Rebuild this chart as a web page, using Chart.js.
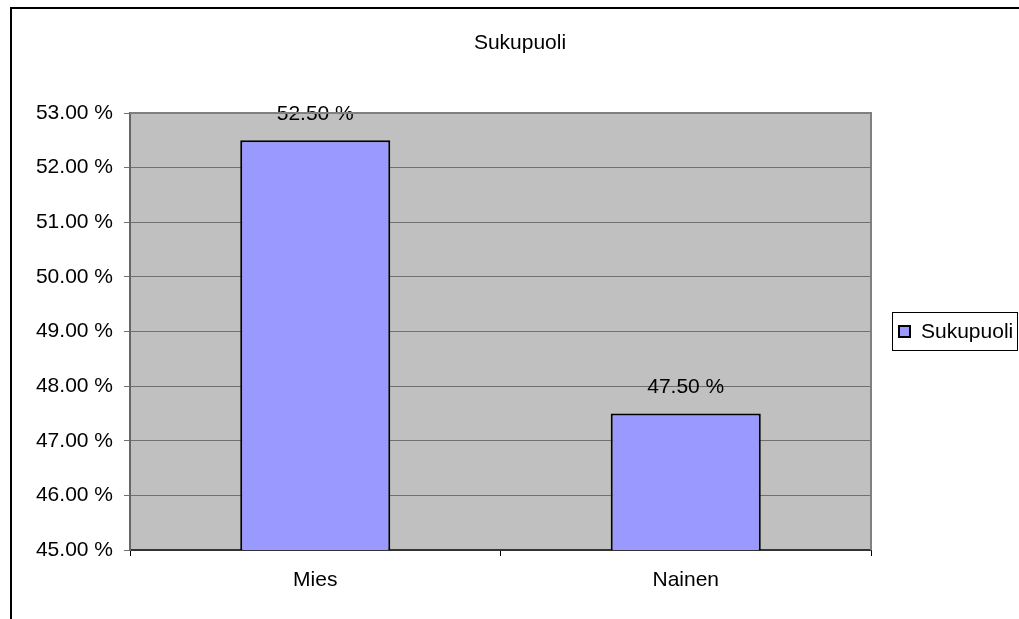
<!DOCTYPE html>
<html>
<head>
<meta charset="utf-8">
<script src="https://cdn.jsdelivr.net/npm/chart.js@4"></script>
<style>
  body { margin: 0; background: #fff; }
  canvas { display: block; }
</style>
</head>
<body>
<canvas id="chart" width="1019" height="619"></canvas>
<script>
// chart data
const categories = ['Mies', 'Nainen'];
const seriesName = 'Sukupuoli';
const seriesValues = [52.5, 47.5];
const yTicks = [45, 46, 47, 48, 49, 50, 51, 52, 53];

const FONT = "'Liberation Sans', Arial, sans-serif";
const FS = 21;

// frame, plot background, title and legend (excel look)
const excelLook = {
    id: 'excelLook',
    beforeDraw(chart) {
        const ctx = chart.ctx;
        const a = chart.chartArea;
        ctx.save();
        ctx.fillStyle = '#fff';
        ctx.fillRect(0, 0, chart.width, chart.height);
        // outer frame (left + top only visible)
        ctx.strokeStyle = '#000';
        ctx.lineWidth = 2;
        ctx.beginPath();
        ctx.moveTo(11, chart.height);
        ctx.lineTo(11, 8);
        ctx.lineTo(chart.width, 8);
        ctx.stroke();
        // plot area
        ctx.fillStyle = '#c0c0c0';
        ctx.fillRect(a.left, a.top, a.right - a.left, a.bottom - a.top);
        ctx.restore();
    },
    afterDraw(chart) {
        const ctx = chart.ctx;
        const a = chart.chartArea;
        ctx.save();
        // top and right border of plot area
        ctx.strokeStyle = '#808080';
        ctx.lineWidth = 2;
        ctx.beginPath();
        ctx.moveTo(a.left, a.top);
        ctx.lineTo(a.right, a.top);
        ctx.lineTo(a.right, a.bottom);
        ctx.stroke();
        // title
        ctx.fillStyle = '#000';
        ctx.font = FS + 'px ' + FONT;
        ctx.textAlign = 'center';
        ctx.textBaseline = 'middle';
        ctx.fillText(seriesName, 520, 43);
        // legend
        ctx.strokeStyle = '#000';
        ctx.lineWidth = 1;
        ctx.strokeRect(892.5, 312.5, 125, 38);
        ctx.fillStyle = '#9999ff';
        ctx.fillRect(899, 326, 11, 11);
        ctx.lineWidth = 2;
        ctx.strokeRect(899, 326, 11, 11);
        ctx.fillStyle = '#000';
        ctx.textAlign = 'left';
        ctx.fillText(chart.data.datasets[0].label, 921, 332);
        ctx.restore();
    },
    afterDatasetsDraw(chart) {
        const ctx = chart.ctx;
        const meta = chart.getDatasetMeta(0);
        ctx.save();
        ctx.fillStyle = '#000';
        ctx.font = FS + 'px ' + FONT;
        ctx.textAlign = 'center';
        ctx.textBaseline = 'middle';
        meta.data.forEach((bar, i) => {
            const v = chart.data.datasets[0].data[i];
            ctx.fillText(v.toFixed(2) + ' %', bar.x, bar.y - 26);
        });
        ctx.restore();
    }
};

const ctx = document.getElementById('chart').getContext('2d');

new Chart(ctx, {
    type: 'bar',
    data: {
        labels: categories,
        datasets: [{
            label: seriesName,
            data: seriesValues,
            backgroundColor: '#9999ff',
            borderColor: '#000',
            borderWidth: 2,
            barPercentage: 0.405,
            categoryPercentage: 1.0,
        }],
    },
    options: {
        responsive: false,
        animation: false,
        layout: {
            padding: { top: 113, right: 148, left: 0, bottom: 0 },
        },
        plugins: {
            legend: { display: false },
            title: { display: false },
            tooltip: { enabled: false },
        },
        scales: {
            x: {
                grid: {
                    offset: true,
                    drawOnChartArea: false,
                    drawTicks: true,
                    tickLength: 6,
                    color: '#000',
                },
                border: { color: '#333', width: 2 },
                ticks: {
                    color: '#000',
                    padding: 12,
                    font: { family: FONT, size: FS },
                },
                afterFit(scale) { scale.height = 69; },
            },
            y: {
                min: 45,
                max: 53,
                afterBuildTicks(scale) {
                    scale.ticks = yTicks.map(v => ({ value: v }));
                },
                grid: {
                    color: '#707070',
                    tickLength: 6,
                },
                border: { color: '#666', width: 2 },
                ticks: {
                    color: '#000',
                    padding: 11,
                    font: { family: FONT, size: FS },
                    callback: v => v.toFixed(2) + ' %',
                },
                afterFit(scale) { scale.width = 130; },
            },
        },
    },
    plugins: [excelLook],
});
</script>
</body>
</html>
